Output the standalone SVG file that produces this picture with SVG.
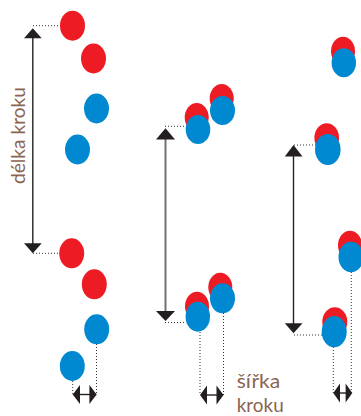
<svg xmlns="http://www.w3.org/2000/svg" width="361" height="416" viewBox="0 0 361 416">
<style>
.r{fill:#ED1C24}
.b{fill:#0089D0}
.ln{stroke:#222;stroke-width:1.4;fill:none}
.lg{stroke:#707070;stroke-width:2;fill:none}
.dt{stroke:#333;stroke-width:1;stroke-dasharray:1 2;fill:none}
.ah{fill:#231F20}
.t{font-family:Lato,"Open Sans","Liberation Sans",sans-serif;font-size:20px;fill:#8A6552}
</style>
<rect width="361" height="416" fill="#fff"/>
<g id="connectors">
<!-- column 1 -->
<line class="ln" x1="32.8" y1="34" x2="32.8" y2="248"/>
<polygon class="ah" points="32.8,28.3 41.7,38.3 24,38.3"/>
<polygon class="ah" points="32.8,253.3 41.7,243.3 24,243.3"/>
<line class="dt" x1="33" y1="25.7" x2="60" y2="25.7"/>
<line class="dt" x1="33" y1="253.3" x2="59" y2="253.3"/>
<line class="dt" x1="96.5" y1="344" x2="96.5" y2="394"/>
<line class="dt" x1="72.7" y1="381" x2="72.7" y2="394"/>
<line class="ln" x1="76" y1="394.5" x2="93" y2="394.5"/>
<polygon class="ah" points="72.7,394.5 80,385 80,404"/>
<polygon class="ah" points="96.7,394.5 89.4,385 89.4,404"/>
<!-- column 2 -->
<line class="lg" x1="165.5" y1="135" x2="165.5" y2="315"/>
<polygon class="ah" points="165.5,128.3 175,139.5 156,139.5"/>
<polygon class="ah" points="165.5,321 175,311 156,311"/>
<line class="dt" x1="165" y1="126.3" x2="186" y2="126.3"/>
<line class="dt" x1="165" y1="322.5" x2="186" y2="322.5"/>
<line class="dt" x1="200" y1="332" x2="200" y2="395"/>
<line class="dt" x1="223.5" y1="313" x2="223.5" y2="395"/>
<line class="ln" x1="203" y1="395" x2="220" y2="395"/>
<polygon class="ah" points="200,395 207,385.5 207,404.5"/>
<polygon class="ah" points="223.5,395 216.5,385.5 216.5,404.5"/>
<!-- column 3 -->
<line class="ln" x1="293.5" y1="150" x2="293.5" y2="328"/>
<polygon class="ah" points="293.5,145 302.5,156.5 284.8,156.5"/>
<polygon class="ah" points="293.5,333.3 302.5,323.3 284.8,323.3"/>
<line class="dt" x1="294" y1="145" x2="316" y2="145"/>
<line class="dt" x1="294" y1="335" x2="322" y2="335"/>
<line class="dt" x1="333.3" y1="347" x2="333.3" y2="393"/>
<line class="dt" x1="351.3" y1="272" x2="351.3" y2="393"/>
<line class="ln" x1="336" y1="393" x2="349" y2="393"/>
<polygon class="ah" points="333.3,393 340,383.5 340,402.5"/>
<polygon class="ah" points="352.3,393 345.6,383.5 345.6,402.5"/>
</g>
<g id="col1-feet">
<ellipse class="r" cx="72.5" cy="25.7" rx="12.5" ry="15"/>
<ellipse class="r" cx="93.5" cy="58.5" rx="12.5" ry="15"/>
<ellipse class="b" cx="96.5" cy="108.5" rx="12.5" ry="15"/>
<ellipse class="b" cx="77.5" cy="149.5" rx="12.5" ry="15"/>
<ellipse class="r" cx="71.7" cy="253.3" rx="12.5" ry="15"/>
<ellipse class="r" cx="94.3" cy="284.3" rx="12.5" ry="15"/>
<ellipse class="b" cx="96.7" cy="329.3" rx="12.5" ry="15"/>
<ellipse class="b" cx="72.3" cy="366" rx="12.5" ry="15"/>
</g>
<g id="col2-feet">
<ellipse class="r" cx="221.7" cy="98.5" rx="12" ry="14.5"/>
<ellipse class="b" cx="222.5" cy="110.5" rx="12.5" ry="14.5"/>
<ellipse class="r" cx="196.7" cy="117.5" rx="12" ry="14.5"/>
<ellipse class="b" cx="198" cy="129.5" rx="12.3" ry="14.5"/>
<ellipse class="r" cx="220.3" cy="287.2" rx="12" ry="14.5"/>
<ellipse class="b" cx="222.5" cy="298.3" rx="12.5" ry="15"/>
<ellipse class="r" cx="197" cy="306.2" rx="12" ry="14.5"/>
<ellipse class="b" cx="197.8" cy="316.7" rx="12.2" ry="15"/>
</g>
<g id="col3-feet">
<ellipse class="r" cx="343" cy="51.2" rx="12" ry="14.5"/>
<ellipse class="b" cx="343.8" cy="62.8" rx="12.2" ry="14.5"/>
<ellipse class="r" cx="326.7" cy="137.8" rx="12.3" ry="14.5"/>
<ellipse class="b" cx="327.8" cy="149.5" rx="12.8" ry="15.5"/>
<ellipse class="r" cx="350" cy="245.2" rx="12" ry="14.5"/>
<ellipse class="b" cx="351" cy="257" rx="12.5" ry="15.3"/>
<ellipse class="r" cx="334.8" cy="321.8" rx="12.5" ry="14.5"/>
<ellipse class="b" cx="334.2" cy="331.7" rx="12.5" ry="15.6"/>
</g>
<g id="label-delka">
<text class="t" transform="translate(25,135.5) rotate(-90)" text-anchor="middle" textLength="97" lengthAdjust="spacingAndGlyphs">délka kroku</text>
</g>
<g id="label-sirka">
<text class="t" x="236.7" y="388" textLength="43.5" lengthAdjust="spacingAndGlyphs">šířka</text>
<text class="t" x="236.7" y="411.5" textLength="47" lengthAdjust="spacingAndGlyphs">kroku</text>
</g>
</svg>
